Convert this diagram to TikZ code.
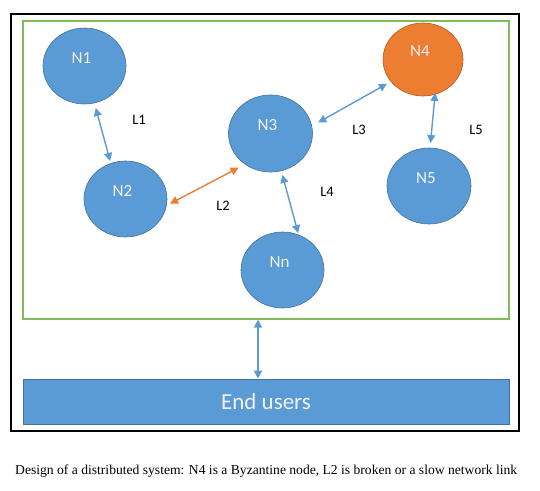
\documentclass[tikz,border=0pt]{standalone}
\usepackage{fontspec}
\setmainfont{Carlito}
\newfontfamily\capfont{Liberation Serif}
\usetikzlibrary{shapes.geometric,arrows.meta,calc}
\definecolor{nodeblue}{HTML}{5B9BD5}
\definecolor{nodeborder}{HTML}{41719C}
\definecolor{byzorange}{HTML}{ED7D31}
\definecolor{byzborder}{HTML}{AE5A21}
\definecolor{framegreen}{RGB}{128,188,90}
\definecolor{nodetext}{HTML}{F2F2F2}
\tikzset{
  ell/.style={ellipse, draw=nodeborder, fill=nodeblue, line width=0.6pt, inner sep=0pt, minimum width=83pt, minimum height=76pt},
  byz/.style={ell, draw=byzborder, fill=byzorange, minimum width=80pt, minimum height=73pt},
  ntext/.style={text=nodetext, font=\fontsize{17}{19}\selectfont, inner sep=0pt},
  ltext/.style={text=black, font=\fontsize{14.5}{16}\selectfont, inner sep=0pt},
  arr/.style={draw=nodeblue, line width=1.4pt, {Triangle[length=8pt,width=8pt]}-{Triangle[length=8pt,width=8pt]}},
  oarr/.style={arr, draw=byzorange},
}
\begin{document}
\begin{tikzpicture}[x=1pt,y=-1pt]
\useasboundingbox (0,0) rectangle (540,490);
\fill[white] (0,0) rectangle (540,490);
% frames
\node[draw=black, line width=2pt, minimum width=508pt, minimum height=417pt, inner sep=0pt] (outer) at (265,222.5) {};
\node[draw=framegreen, line width=1.2pt, minimum width=486pt, minimum height=298pt, inner sep=0pt] (frame) at (266,170) {};
% end users
\node[draw=nodeborder, fill=nodeblue, line width=0.6pt, minimum width=486pt, minimum height=45pt, inner sep=0pt, text=nodetext, font=\fontsize{23}{26}\selectfont] (users) at (266,401.5) {End users};
% nodes
\node[ell] (n1) at (84.5,66) {};
\node[ell] (n2) at (125.5,199) {};
\node[ell, minimum width=84pt, minimum height=77pt] (n3) at (270.5,133.5) {};
\node[byz] (n4) at (423,59.5) {};
\node[ell, minimum width=84pt] (n5) at (429,186) {};
\node[ell] (nn) at (282.5,270) {};
\node[ntext] (t1) at (81.5,58) {N1};
\node[ntext] (t2) at (122.5,191) {N2};
\node[ntext] (t3) at (267.5,125.5) {N3};
\node[ntext] (t4) at (420,51.5) {N4};
\node[ntext] (t5) at (426,178) {N5};
\node[ntext] (tn) at (279.5,262) {Nn};
% link labels
\node[ltext] (l1) at (139,120) {L1};
\node[ltext] (l2) at (223,206) {L2};
\node[ltext] (l3) at (359,130) {L3};
\node[ltext] (l4) at (327,192) {L4};
\node[ltext] (l5) at (476,130) {L5};
% links
\draw[arr] ($(n1.center)!43.5pt!(n1.-75)$) -- ($(n2.center)!41pt!(n2.112)$);
\draw[oarr] ($(n2.center)!44.8pt!(n2.-6)$) -- ($(n3.center)!46.7pt!(n3.227.6)$);
\draw[arr] ($(n3.center)!48.9pt!(n3.13.6)$) -- ($(n4.center)!43.5pt!(n4.214.2)$);
\draw[arr] ($(n4.center)!35.6pt!(n4.-70.3)$) -- ($(n5.center)!43pt!(n5.88.7)$);
\draw[arr] ($(n3.center)!43.1pt!(n3.-74.5)$) -- ($(nn.center)!40.1pt!(nn.67.3)$);
\coordinate (ax) at (258,0);
\draw[arr] (frame.south -| ax) -- (users.north -| ax);
% caption
\node[anchor=west, inner sep=0pt, font=\capfont\fontsize{13.6}{16}\selectfont] (cap) at (15,471) {Design of a distributed system: N4 is a Byzantine node, L2 is broken or a slow network link};
\end{tikzpicture}
\end{document}
